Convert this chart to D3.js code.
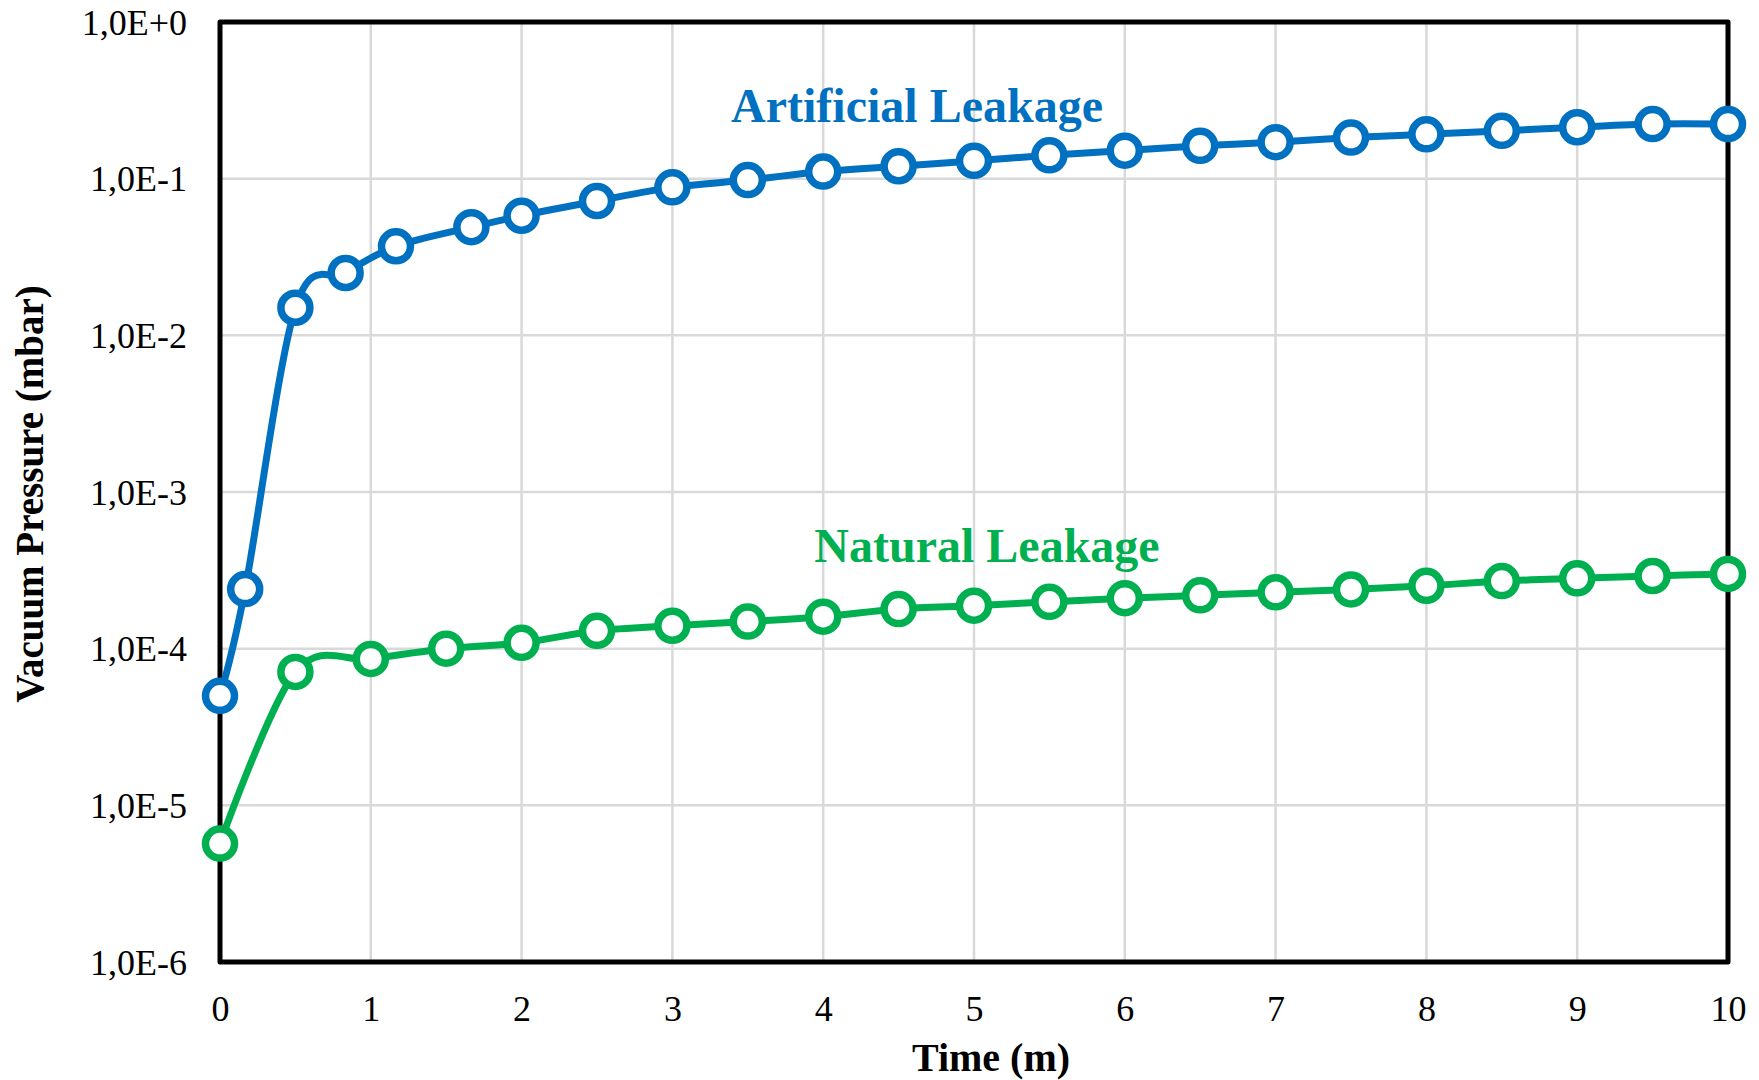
<!DOCTYPE html>
<html>
<head>
<meta charset="utf-8">
<script src="https://cdn.jsdelivr.net/npm/d3@7"></script>
<style>
  body { margin: 0; background: #fff; }
  svg { display: block; font-family: 'Liberation Serif', 'Times New Roman', serif; }
</style>
</head>
<body>
<svg id="chart" width="1759" height="1080"></svg>
<script>
// data (time in minutes, pressure in mbar)
const artificialTime = [0, 0.167, 0.5, 0.833, 1.167, 1.667, 2, 2.5, 3, 3.5, 4, 4.5,
  5, 5.5, 6, 6.5, 7, 7.5, 8, 8.5, 9, 9.5, 10]
const artificialPressure = [5.0e-5, 2.4e-4, 1.5e-2, 2.5e-2, 3.7e-2, 4.9e-2, 5.8e-2, 7.2e-2,
  8.8e-2, 9.8e-2, 0.111, 0.12, 0.13, 0.141, 0.151, 0.162, 0.171, 0.183, 0.192, 0.202,
  0.213, 0.223, 0.223]

const naturalTime = [0, 0.5, 1, 1.5, 2, 2.5, 3, 3.5, 4, 4.5, 5, 5.5, 6, 6.5, 7, 7.5,
  8, 8.5, 9, 9.5, 10]
const naturalPressure = [5.7e-6, 7.1e-5, 8.6e-5, 1.0e-4, 1.09e-4, 1.3e-4, 1.4e-4, 1.49e-4,
  1.6e-4, 1.79e-4, 1.88e-4, 1.99e-4, 2.1e-4, 2.19e-4, 2.29e-4, 2.39e-4, 2.52e-4, 2.7e-4,
  2.81e-4, 2.91e-4, 3.0e-4]

const xTicks = [0, 1, 2, 3, 4, 5, 6, 7, 8, 9, 10]
const yTicks = [1e-6, 1e-5, 1e-4, 1e-3, 1e-2, 1e-1, 1]
const yTickLabels = ['1,0E-6', '1,0E-5', '1,0E-4', '1,0E-3', '1,0E-2', '1,0E-1', '1,0E+0']

const series = [
  {name: 'Artificial Leakage', time: artificialTime, values: artificialPressure, color: '#0070c0'},
  {name: 'Natural Leakage', time: naturalTime, values: naturalPressure, color: '#00b050'}
]

const margin = {left: 220, right: 31, top: 22, bottom: 118}
const width = 1759 - margin.left - margin.right
const height = 1080 - margin.top - margin.bottom

const svg = d3.select('#chart')
const g = svg.append('g').attr('transform', `translate(${margin.left},${margin.top})`)

const x = d3.scaleLinear().domain([0, 10]).range([0, width])
const y = d3.scaleLog().domain([1e-6, 1]).range([height, 0])

// grid
g.append('g').attr('class', 'grid')
  .selectAll('line.v')
  .data(xTicks.slice(1, -1))
  .enter().append('line')
  .attr('x1', (d) => x(d)).attr('x2', (d) => x(d))
  .attr('y1', 0).attr('y2', height)
  .attr('stroke', '#d9d9d9').attr('stroke-width', 2.5)

g.select('.grid')
  .selectAll('line.h')
  .data(yTicks.slice(1, -1))
  .enter().append('line')
  .attr('x1', 0).attr('x2', width)
  .attr('y1', (d) => y(d)).attr('y2', (d) => y(d))
  .attr('stroke', '#d9d9d9').attr('stroke-width', 2.5)

// axes (labels only, frame drawn separately)
let xAxis = g.append('g')
  .attr('transform', `translate(0,${height})`)
  .call(d3.axisBottom(x).tickValues(xTicks).tickSize(0).tickPadding(36))
let yAxis = g.append('g')
  .call(d3.axisLeft(y).tickValues(yTicks).tickSize(0).tickPadding(33)
    .tickFormat((d, i) => yTickLabels[i]))

;[xAxis, yAxis].forEach((a) => {
  a.select('.domain').remove()
  a.selectAll('text')
    .attr('font-family', "'Liberation Serif', 'Times New Roman', serif")
    .attr('font-size', 36)
    .attr('fill', '#000')
})
xAxis.selectAll('text').attr('dy', null).attr('y', 59)
yAxis.selectAll('text').attr('dy', '0.34em')

// frame
g.append('rect')
  .attr('x', 0).attr('y', 0)
  .attr('width', width).attr('height', height)
  .attr('fill', 'none')
  .attr('stroke', '#000')
  .attr('stroke-width', 5)
  .attr('stroke-linejoin', 'round')

// lines and markers
const line = d3.line()
  .curve(d3.curveCatmullRom.alpha(0))
  .x((d) => x(d.t))
  .y((d) => y(d.v))

series.forEach((s) => {
  let pts = s.time.map((t, i) => ({t: t, v: s.values[i]}))
  g.append('path')
    .datum(pts)
    .attr('d', line)
    .attr('fill', 'none')
    .attr('stroke', s.color)
    .attr('stroke-width', 7)

  g.append('g').selectAll('circle')
    .data(pts)
    .enter().append('circle')
    .attr('cx', (d) => x(d.t))
    .attr('cy', (d) => y(d.v))
    .attr('r', 14.5)
    .attr('fill', '#fff')
    .attr('stroke', s.color)
    .attr('stroke-width', 7.5)
})

// series labels
svg.append('text')
  .attr('x', 917).attr('y', 122)
  .attr('text-anchor', 'middle')
  .attr('font-size', 48).attr('font-weight', 'bold')
  .attr('fill', series[0].color)
  .text(series[0].name)

svg.append('text')
  .attr('x', 987).attr('y', 562)
  .attr('text-anchor', 'middle')
  .attr('font-size', 48).attr('font-weight', 'bold')
  .attr('fill', series[1].color)
  .text(series[1].name)

// axis titles
svg.append('text')
  .attr('x', margin.left + width / 2 + 17).attr('y', 1071)
  .attr('text-anchor', 'middle')
  .attr('font-size', 40).attr('font-weight', 'bold')
  .text('Time (m)')

svg.append('text')
  .attr('transform', 'translate(43,494) rotate(-90)')
  .attr('text-anchor', 'middle')
  .attr('font-size', 39).attr('font-weight', 'bold')
  .text('Vacuum Pressure (mbar)')
</script>
</body>
</html>
